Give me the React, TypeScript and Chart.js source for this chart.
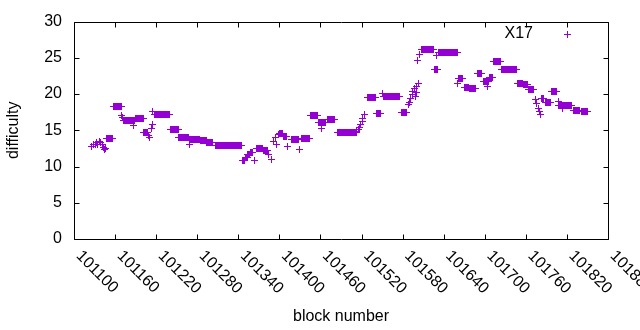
import { useEffect, useRef } from 'react';
import { Chart, registerables } from 'chart.js';

Chart.register(...registerables);

const X_MIN = 101100;
const X_MAX = 101880;
const X_STEP = 60;
const Y_MIN = 0;
const Y_MAX = 30;
const Y_STEP = 5;
const seriesLabel = 'X17';
const xTitle = 'block number';
const yTitle = 'difficulty';
const COLOR = '#9400d3';
const FONT = '"Liberation Sans", Arial, sans-serif';

// runs of consecutive blocks that share one difficulty
const runFirstBlock = [
  101148, 101157, 101172, 101190, 101202, 101217, 101241, 101253, 101269, 101285,
  101294, 101306, 101346, 101350, 101354, 101358, 101366, 101377, 101400, 101406,
  101417, 101433, 101445, 101457, 101471, 101485, 101528, 101542, 101552, 101578,
  101607, 101626, 101632, 101661, 101670, 101677, 101689, 101698, 101707, 101713,
  101725, 101748, 101756, 101764, 101783, 101789, 101798, 101808, 101829, 101842,
];
const runLastBlock = [
  101156, 101169, 101189, 101201, 101208, 101239, 101252, 101267, 101284, 101293,
  101303, 101345, 101349, 101353, 101357, 101360, 101376, 101382, 101405, 101411,
  101428, 101444, 101455, 101468, 101481, 101512, 101540, 101547, 101576, 101586,
  101625, 101631, 101660, 101668, 101676, 101686, 101695, 101706, 101712, 101723,
  101747, 101755, 101762, 101771, 101786, 101796, 101805, 101826, 101839, 101850,
];
const runDifficulty = [
  13.8, 18.3, 16.3, 16.6, 14.7, 17.2, 15.1, 14.05, 13.7, 13.55,
  13.35, 12.95, 10.9, 11.2, 11.6, 11.9, 12.5, 12.2, 14.5, 14.2,
  13.7, 13.85, 17.0, 16.1, 16.5, 14.7, 19.5, 17.25, 19.7, 17.5,
  26.2, 23.4, 25.8, 22.2, 20.9, 20.7, 22.9, 21.7, 22.3, 24.45,
  23.4, 21.5, 21.3, 20.6, 19.4, 18.8, 20.3, 18.4, 17.7, 17.6,
];

// isolated points
const singleBlock = [
  101126, 101129, 101131, 101133, 101135, 101137, 101139, 101141, 101143, 101145, 101146,
  101170, 101171, 101187, 101209, 101210, 101213, 101214, 101215, 101268,
  101364, 101384, 101389, 101392, 101394, 101396, 101398, 101412, 101429, 101461,
  101513, 101515, 101517, 101519, 101521, 101522, 101524, 101550,
  101588, 101590, 101592, 101594, 101595, 101597, 101599, 101600, 101601, 101603,
  101602, 101605, 101629, 101660, 101704,
  101774, 101776, 101778, 101780, 101782, 101807, 101813,
];
const singleDifficulty = [
  12.8, 13.0, 13.1, 13.3, 13.0, 13.5, 13.3, 13.1, 12.6, 12.3, 12.5,
  17.1, 16.8, 15.7, 14.3, 14.0, 15.3, 15.8, 17.6, 13.0,
  10.9, 11.7, 11.0, 13.5, 14.0, 13.1, 14.4, 12.8, 12.4, 15.3,
  14.9, 15.1, 15.4, 15.8, 16.2, 16.6, 17.2, 20.1,
  18.5, 18.9, 19.4, 19.9, 20.3, 20.7, 19.7, 20.2, 21.0, 21.4,
  24.6, 25.5, 25.3, 21.5, 21.0,
  19.2, 18.7, 18.0, 17.6, 17.2, 19.0, 18.0,
];

function buildPoints() {
  const pts: { x: number; y: number }[] = [];
  runFirstBlock.forEach((first, i) => {
    for (let b = first; b <= runLastBlock[i]; b++) pts.push({ x: b, y: runDifficulty[i] });
  });
  singleBlock.forEach((b, i) => pts.push({ x: b, y: singleDifficulty[i] }));
  pts.sort((a, b) => a.x - b.x);
  return pts;
}

function makeCross(): HTMLCanvasElement {
  const c = document.createElement('canvas');
  c.width = 7;
  c.height = 7;
  const g = c.getContext('2d')!;
  g.fillStyle = COLOR;
  g.fillRect(3, 0, 1, 7);
  g.fillRect(0, 3, 7, 1);
  return c;
}

const TICK = 5;

const crispPoints = {
  id: 'crispPoints',
  beforeDatasetsDraw(chart: any) {
    chart.ctx.imageSmoothingEnabled = false;
  },
  afterDatasetsDraw(chart: any) {
    chart.ctx.imageSmoothingEnabled = true;
  },
};

const gnuFrame = {
  id: 'gnuFrame',
  afterDraw(chart: any) {
    const { ctx, chartArea: a, scales } = chart;
    const xs = scales.x;
    const ys = scales.y;
    const L = Math.round(a.left) + 0.5;
    const R = Math.round(a.right) + 0.5;
    const T = Math.round(a.top) + 0.5;
    const B = Math.round(a.bottom) + 0.5;
    ctx.save();
    ctx.strokeStyle = '#000';
    ctx.lineWidth = 1;
    ctx.beginPath();
    ctx.rect(L, T, R - L, B - T);
    xs.ticks.forEach((t: any) => {
      const px = Math.round(xs.getPixelForValue(t.value)) + 0.5;
      ctx.moveTo(px, B);
      ctx.lineTo(px, B - TICK);
      ctx.moveTo(px, T);
      ctx.lineTo(px, T + TICK);
    });
    ys.ticks.forEach((t: any) => {
      const py = Math.round(ys.getPixelForValue(t.value)) + 0.5;
      ctx.moveTo(L, py);
      ctx.lineTo(L + TICK, py);
      ctx.moveTo(R, py);
      ctx.lineTo(R - TICK, py);
    });
    ctx.stroke();

    ctx.fillStyle = '#000';
    ctx.font = '16px ' + FONT;
    ctx.textAlign = 'left';
    ctx.textBaseline = 'middle';
    xs.ticks.forEach((t: any) => {
      const px = xs.getPixelForValue(t.value);
      ctx.save();
      ctx.translate(px + 4.5, a.bottom + 14.5);
      ctx.rotate(Math.PI / 4);
      ctx.fillText(String(t.value), 0, 0);
      ctx.restore();
    });

    // key
    ctx.textAlign = 'right';
    ctx.fillText(seriesLabel, a.right - 75, a.top + 12);
    const mx = Math.round(a.right - 41);
    const my = Math.round(a.top + 12);
    ctx.fillStyle = COLOR;
    ctx.fillRect(mx, my - 3, 1, 7);
    ctx.fillRect(mx - 3, my, 7, 1);
    ctx.restore();
  },
};

export default function App() {
  const ref = useRef<HTMLCanvasElement>(null);
  useEffect(() => {
    if (!ref.current) return;
    Chart.defaults.font.family = FONT;
    const cross = makeCross();
    const chart = new Chart(ref.current, {
      type: 'scatter',
      data: {
        datasets: [
          {
            label: seriesLabel,
            data: buildPoints(),
            pointStyle: cross,
            pointRadius: 3.5,
            pointBorderWidth: 0,
            borderColor: COLOR,
            backgroundColor: COLOR,
            showLine: false,
          },
        ],
      },
      options: {
        responsive: false,
        animation: false,
        devicePixelRatio: 1,
        layout: { padding: { top: 20, right: 32, left: 0, bottom: 0 } },
        plugins: { legend: { display: false }, tooltip: { enabled: false } },
        events: [],
        scales: {
          x: {
            type: 'linear',
            min: X_MIN,
            max: X_MAX,
            ticks: { stepSize: X_STEP, display: false },
            grid: { display: false, drawTicks: false },
            border: { display: false },
            title: {
              display: true,
              text: xTitle,
              color: '#000',
              font: { size: 16, family: FONT },
              padding: { top: 0, bottom: 4 },
            },
            afterFit: (s: any) => {
              s.height = 91;
            },
          },
          y: {
            type: 'linear',
            min: Y_MIN,
            max: Y_MAX,
            ticks: { stepSize: Y_STEP, color: '#000', font: { size: 16, family: FONT }, padding: 12 },
            grid: { display: false, drawTicks: false },
            border: { display: false },
            title: {
              display: true,
              text: yTitle,
              color: '#000',
              font: { size: 16, family: FONT },
              padding: { top: 4, bottom: 0 },
            },
            afterFit: (s: any) => {
              s.width = 74;
            },
          },
        },
      },
      plugins: [crispPoints, gnuFrame],
    });
    return () => chart.destroy();
  }, []);
  return (
    <div style={{ position: 'fixed', left: 0, top: 0, width: 640, height: 330, background: '#fff' }}>
      <canvas ref={ref} width={640} height={330} style={{ display: 'block' }} />
    </div>
  );
}
